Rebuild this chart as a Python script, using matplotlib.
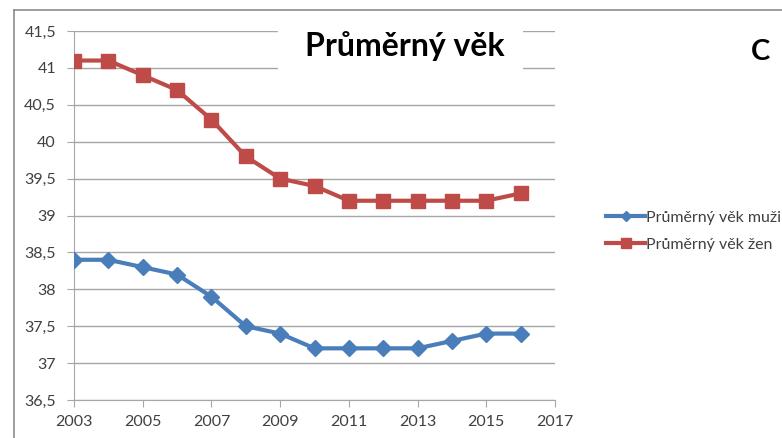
import matplotlib.pyplot as plt
from matplotlib.lines import Line2D
from matplotlib.patches import Rectangle

plt.rc('font', family=['Lato', 'DejaVu Sans'])

years = [2003, 2004, 2005, 2006, 2007, 2008, 2009, 2010, 2011, 2012, 2013, 2014, 2015, 2016]
muzi = [38.4, 38.4, 38.3, 38.2, 37.9, 37.5, 37.4, 37.2, 37.2, 37.2, 37.2, 37.3, 37.4, 37.4]
zeny = [41.1, 41.1, 40.9, 40.7, 40.3, 39.8, 39.5, 39.4, 39.2, 39.2, 39.2, 39.2, 39.2, 39.3]
xticks = [2003, 2005, 2007, 2009, 2011, 2013, 2015, 2017]
yticks = [36.5, 37, 37.5, 38, 38.5, 39, 39.5, 40, 40.5, 41, 41.5]
ylabels = [str(v).replace('.', ',').replace(',0', '') for v in yticks]

blue = '#4A7EBB'
red = '#BE4B48'
grid = '#A6A6A6'

fig = plt.figure(figsize=(7.82, 4.38), dpi=100)
ax = fig.add_axes([74/782, 1-400/438, (555-74)/782, (400-31)/438])

ax.plot(years, muzi, color=blue, lw=3, marker='D', ms=8, label='Průměrný věk muži', zorder=3)
ax.plot(years, zeny, color=red, lw=3, marker='s', ms=10, label='Průměrný věk žen', zorder=3)

ax.set_xlim(2003, 2017)
ax.set_ylim(36.5, 41.5)
ax.set_xticks(xticks)
ax.set_yticks(yticks)
ax.set_yticklabels(ylabels)
ax.grid(axis='y', color=grid, lw=1)
ax.set_axisbelow(True)
for s in ['top', 'right']:
  ax.spines[s].set_visible(False)
for s in ['left', 'bottom']:
  ax.spines[s].set_color(grid)
ax.tick_params(axis='both', color=grid, length=5, labelsize=11.5, labelcolor='#404040')
ax.tick_params(axis='x', pad=6)
ax.tick_params(axis='y', pad=8)

# outer chart border
fig.add_artist(Line2D([14/782, 1], [1-10/438, 1-10/438], color='#8C8C8C', lw=1.2))
fig.add_artist(Line2D([14/782, 14/782], [0, 1-10/438], color='#8C8C8C', lw=1.2))

# title box
fig.add_artist(Rectangle((278/782, 1-85/438), 245/782, 68/438, facecolor='white', edgecolor='none', zorder=5))
fig.text(405/782, 1-46/438, 'Průměrný věk', ha='center', va='center', fontsize=23, fontweight='bold', zorder=6)
fig.text(760/782, 1-52/438, 'C', ha='center', va='center', fontsize=21, fontweight='bold')

leg = fig.legend(loc='upper left', bbox_to_anchor=(592/782, 1-196/438), frameon=False, fontsize=11.5,
                 handlelength=2.4, handletextpad=0.1, labelspacing=0.8, markerscale=0.7)
for t in leg.get_texts():
  t.set_color('#404040')

fig.savefig('out.png', dpi=100)
